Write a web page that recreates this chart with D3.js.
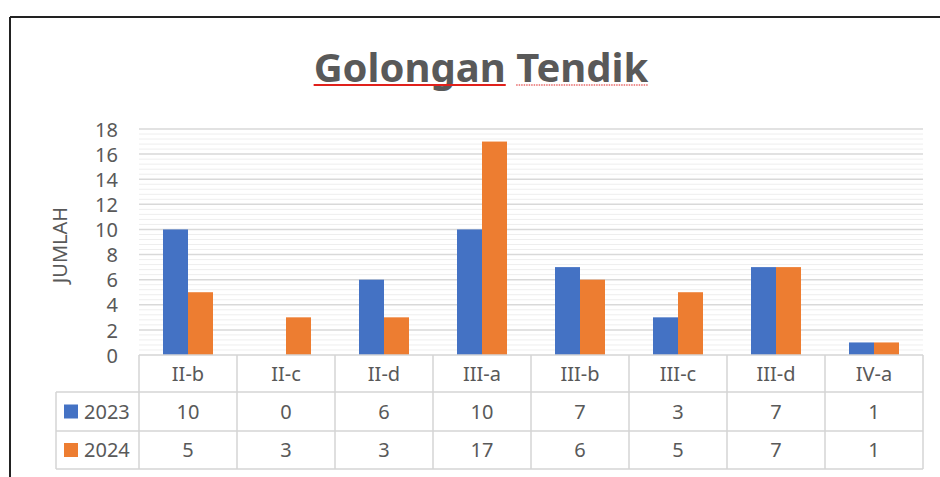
<!DOCTYPE html>
<html>
<head>
<meta charset="utf-8">
<script src="https://cdn.jsdelivr.net/npm/d3@7"></script>
<style>
  html, body { margin: 0; padding: 0; background: #fff; }
  svg { display: block; font-family: "Noto Sans", "Open Sans", sans-serif; }
</style>
</head>
<body>
<svg id="chart" width="940" height="477"></svg>
<script>
const title = "Golongan Tendik";
const yAxisTitle = "JUMLAH";
const categories = ["II-b", "II-c", "II-d", "III-a", "III-b", "III-c", "III-d", "IV-a"];
const seriesNames = ["2023", "2024"];
const values2023 = [10, 0, 6, 10, 7, 3, 7, 1];
const values2024 = [5, 3, 3, 17, 6, 5, 7, 1];
const colors = ["#4472C4", "#ED7D31"];
const yTicks = [0, 2, 4, 6, 8, 10, 12, 14, 16, 18];

const seriesValues = [values2023, values2024];
const svg = d3.select("#chart");
const textColor = "#595959";

// frame (partial border of the screenshot)
svg.append("line").attr("x1", 10).attr("x2", 10).attr("y1", 17).attr("y2", 477)
  .attr("stroke", "#222").attr("stroke-width", 2);
svg.append("line").attr("x1", 10).attr("x2", 940).attr("y1", 17).attr("y2", 17)
  .attr("stroke", "#222").attr("stroke-width", 2);

const plotLeft = 139, plotRight = 923, plotTop = 129, plotBottom = 355;

const x = d3.scaleBand().domain(categories).range([plotLeft, plotRight]).paddingInner(0).paddingOuter(0);
const xSub = d3.scaleBand().domain(seriesNames).range([0, x.bandwidth()]).paddingInner(0).paddingOuter(0.96);
const y = d3.scaleLinear().domain([0, 18]).range([plotBottom, plotTop]);

// minor gridlines
const minorTicks = d3.range(0, 18.001, 0.4).filter(v => Math.abs(v / 2 - Math.round(v / 2)) > 1e-6);
svg.append("g").selectAll("line").data(minorTicks).join("line")
  .attr("x1", plotLeft).attr("x2", plotRight)
  .attr("y1", d => y(d)).attr("y2", d => y(d))
  .attr("stroke", "#eeeeee").attr("stroke-width", 1);

// major gridlines
svg.append("g").selectAll("line").data(yTicks.filter(d => d > 0)).join("line")
  .attr("x1", plotLeft).attr("x2", plotRight)
  .attr("y1", d => y(d)).attr("y2", d => y(d))
  .attr("stroke", "#d9d9d9").attr("stroke-width", 1.5);

// y axis tick labels
const yAxis = d3.axisLeft(y).tickValues(yTicks).tickSize(0).tickPadding(0);
const yg = svg.append("g").attr("transform", `translate(${plotLeft - 21},0)`).call(yAxis);
yg.select(".domain").remove();
yg.selectAll("text").attr("fill", textColor).attr("font-size", 20)
  .attr("font-family", "'Noto Sans', sans-serif").attr("dy", "0.36em");

// y axis title
svg.append("text")
  .attr("transform", `translate(67,${(plotTop + plotBottom) / 2 + 3}) rotate(-90)`)
  .attr("text-anchor", "middle")
  .attr("fill", textColor).attr("font-size", 20)
  .text(yAxisTitle);

// bars
const groups = svg.append("g").selectAll("g").data(categories).join("g")
  .attr("transform", d => `translate(${x(d)},0)`);
groups.selectAll("rect").data((c, i) => seriesNames.map((s, j) => ({ s, v: seriesValues[j][i], j })))
  .join("rect")
  .attr("x", d => xSub(d.s))
  .attr("width", xSub.bandwidth())
  .attr("y", d => y(d.v))
  .attr("height", d => y(0) - y(d.v))
  .attr("fill", d => colors[d.j]);

// data table
const tableLeft = 56;
const rowY = [355, 392, 431, 469];
const gridColor = "#d4d4d4";
const tg = svg.append("g");
// horizontal lines
tg.append("line").attr("x1", plotLeft).attr("x2", plotRight).attr("y1", rowY[0]).attr("y2", rowY[0])
  .attr("stroke", gridColor).attr("stroke-width", 1.5);
[rowY[1], rowY[2], rowY[3]].forEach(yy => {
  tg.append("line").attr("x1", tableLeft).attr("x2", plotRight).attr("y1", yy).attr("y2", yy)
    .attr("stroke", gridColor).attr("stroke-width", 1.5);
});
// vertical lines
const bounds = categories.map(c => x(c)).concat([plotRight]);
bounds.forEach(bx => {
  tg.append("line").attr("x1", bx).attr("x2", bx).attr("y1", rowY[0]).attr("y2", rowY[3])
    .attr("stroke", gridColor).attr("stroke-width", 1.5);
});
tg.append("line").attr("x1", tableLeft).attr("x2", tableLeft).attr("y1", rowY[1]).attr("y2", rowY[3])
  .attr("stroke", gridColor).attr("stroke-width", 1.5);

// category labels
tg.selectAll("text.cat").data(categories).join("text").attr("class", "cat")
  .attr("x", d => x(d) + x.bandwidth() / 2)
  .attr("y", (rowY[0] + rowY[1]) / 2)
  .attr("dy", "0.36em")
  .attr("text-anchor", "middle").attr("fill", textColor).attr("font-size", 20)
  .text(d => d);

// series rows
seriesNames.forEach((s, j) => {
  const cy = (rowY[j + 1] + rowY[j + 2]) / 2;
  tg.append("rect").attr("x", 64).attr("y", cy - 7).attr("width", 14).attr("height", 14).attr("fill", colors[j]);
  tg.append("text").attr("x", 84).attr("y", cy).attr("dy", "0.36em")
    .attr("fill", textColor).attr("font-size", 20).text(s);
  tg.selectAll(`text.v${j}`).data(seriesValues[j]).join("text").attr("class", `v${j}`)
    .attr("x", (d, i) => x(categories[i]) + x.bandwidth() / 2)
    .attr("y", cy).attr("dy", "0.36em")
    .attr("text-anchor", "middle").attr("fill", textColor).attr("font-size", 20)
    .text(d => d);
});

// title
const tNode = svg.append("text")
  .attr("x", 481).attr("y", 82)
  .attr("text-anchor", "middle")
  .attr("fill", textColor).attr("font-size", 40).attr("font-weight", "bold")
  .text(title);
// spell-check style underlines
const el = tNode.node();
const total = el.getComputedTextLength();
const startX = 481 - total / 2;
const firstLen = el.getSubStringLength(0, 8);
const secondStart = el.getSubStringLength(0, 9);
svg.append("line").attr("x1", startX).attr("x2", startX + firstLen).attr("y1", 85).attr("y2", 85)
  .attr("stroke", "#e0201b").attr("stroke-width", 2);
svg.append("line").attr("x1", startX + secondStart).attr("x2", startX + total).attr("y1", 85).attr("y2", 85)
  .attr("stroke", "#e86a6a").attr("stroke-width", 1.5).attr("stroke-dasharray", "1.5,1");
</script>
</body>
</html>
